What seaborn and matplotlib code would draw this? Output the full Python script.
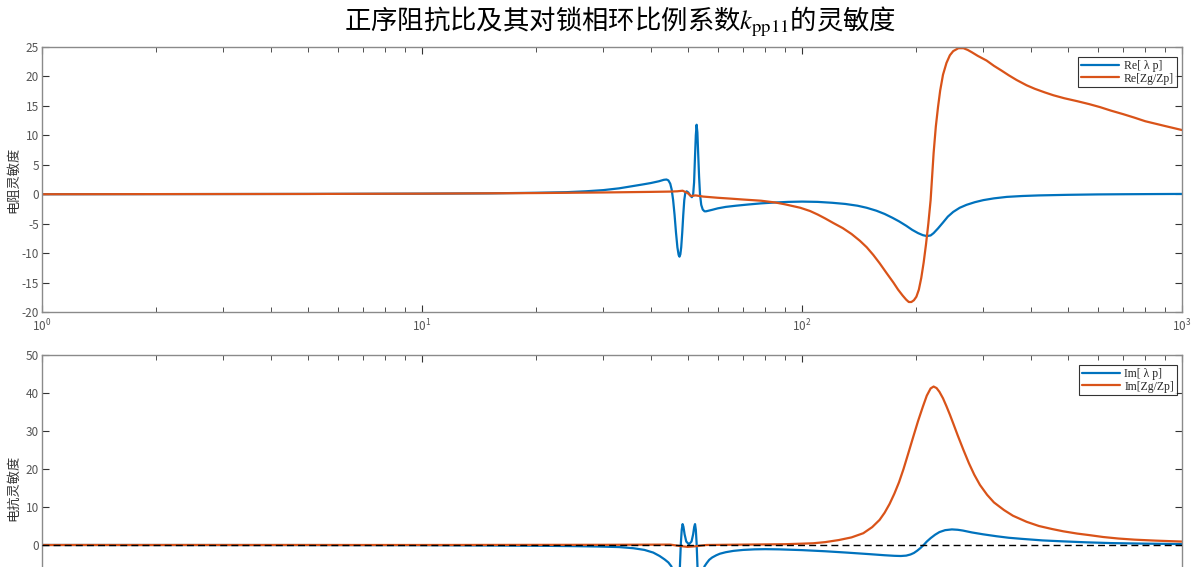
import numpy as np
import pandas as pd
import matplotlib
matplotlib.use("Agg")
import matplotlib.pyplot as plt
import seaborn as sns

# ---------------- data ----------------
# Top panel: Re[λp]
re_lp_f = [1, 2, 5, 10, 15, 20, 24, 27, 30, 33, 36, 38, 40, 42, 43.3, 44.0, 44.5, 45.0,
           45.4, 45.8, 46.2, 46.6, 47.0, 47.35, 47.6, 47.85, 48.1, 48.4, 48.7, 49.0,
           49.3, 49.7, 50.2, 50.8, 51.3, 51.7, 52.0, 52.3, 52.55, 52.8, 53.05, 53.3,
           53.6, 53.9, 54.3, 54.8, 55.4, 55.9, 58, 60, 63, 67, 72, 78, 85, 92, 100,
           110, 120, 130, 140, 148, 157, 165, 173, 180, 188, 195, 202, 208, 213, 218,
           222, 228, 235, 242, 250, 260, 271, 285, 300, 320, 346, 380, 420, 500, 600,
           700, 850, 1000]
re_lp_v = [0.0, 0.02, 0.05, 0.1, 0.15, 0.25, 0.35, 0.5, 0.7, 1.0, 1.4, 1.65, 1.9, 2.2,
           2.45, 2.5, 2.35, 1.8, 0.8, -1.0, -3.5, -6.5, -9.0, -10.3, -10.6, -10.2,
           -9.0, -6.5, -3.5, -1.0, 0.2, 0.5, 0.3, -0.2, -0.5, -0.1, 2.0, 6.5, 10.0,
           11.8, 10.5, 7.0, 3.0, 0.0, -1.8, -2.6, -2.9, -2.9, -2.65, -2.4, -2.15,
           -1.95, -1.75, -1.55, -1.4, -1.3, -1.25, -1.3, -1.45, -1.65, -1.95, -2.3,
           -2.8, -3.35, -4.0, -4.6, -5.35, -6.05, -6.6, -6.95, -7.1, -7.0, -6.6, -5.8,
           -4.8, -3.8, -3.0, -2.3, -1.8, -1.35, -1.0, -0.7, -0.45, -0.3, -0.2, -0.1,
           -0.03, 0.0, 0.03, 0.05]

# Top panel: Re[Zg/Zp]
re_zg_f = [1, 5, 10, 20, 30, 40, 45, 47, 48.5, 50.0, 51.0, 52.5, 55, 60, 65, 70, 78, 85,
           90, 99, 105, 110, 115, 121, 128, 135, 142, 148, 154, 160, 167, 174, 179, 184,
           188, 191, 194, 197, 200, 203, 206, 209, 212, 215, 218, 220, 222, 225, 228,
           231, 235, 240, 245, 250, 258, 266, 273, 280, 290, 306, 320, 335, 350, 367,
           390, 410, 435, 459, 490, 530, 570, 608, 650, 700, 750, 800, 900, 1000]
re_zg_v = [0.0, 0.05, 0.1, 0.2, 0.3, 0.4, 0.45, 0.5, 0.6, 0.2, -0.3, -0.2, -0.4, -0.6,
           -0.75, -0.9, -1.1, -1.4, -1.7, -2.3, -2.85, -3.45, -4.1, -4.9, -5.75, -6.75,
           -7.9, -9.0, -10.3, -11.7, -13.4, -15.0, -16.2, -17.2, -17.9, -18.3, -18.3,
           -18.0, -17.4, -16.2, -14.2, -11.6, -8.5, -5.0, -1.0, 3.0, 7.0, 11.5, 14.8,
           17.6, 20.3, 22.3, 23.6, 24.3, 24.8, 24.8, 24.5, 24.1, 23.5, 22.7, 21.8,
           21.0, 20.2, 19.4, 18.5, 17.9, 17.3, 16.8, 16.3, 15.8, 15.3, 14.8, 14.2,
           13.6, 13.0, 12.4, 11.6, 10.9]

# Bottom panel: Im[λp]
im_lp_f = [1, 5, 10, 20, 25, 29, 33, 36, 38.5, 40.6, 42.2, 43.5, 44.5, 45.3, 46.0, 46.5,
           46.9, 47.2, 47.5, 47.75, 48.0, 48.25, 48.5, 48.75, 49.1, 49.6, 50.4, 51.2,
           51.7, 52.05, 52.3, 52.55, 52.8, 53.05, 53.3, 53.6, 53.9, 54.3, 54.8, 55.4,
           56.1, 57, 58, 59.5, 60.8, 63, 66, 70, 75, 80, 87, 100, 115, 131, 150, 165,
           175, 182, 188, 193, 197, 201, 205, 209, 213, 218, 224, 230, 238, 248, 257,
           265, 280, 300, 325, 350, 380, 430, 487, 560, 650, 800, 1000]
im_lp_v = [0.0, -0.02, -0.05, -0.2, -0.3, -0.4, -0.55, -0.85, -1.3, -2.0, -2.9, -3.8,
           -4.6, -5.6, -7.3, -9.5, -12.5, -13.5, -11.0, -5.0, 0.5, 4.0, 5.5, 4.8, 2.8,
           0.9, 0.2, 0.9, 2.8, 4.8, 5.5, 4.0, 0.5, -5.0, -11.0, -13.5, -12.5, -9.5,
           -7.0, -5.6, -4.8, -3.9, -3.3, -2.7, -2.3, -1.9, -1.55, -1.3, -1.15, -1.1,
           -1.15, -1.35, -1.65, -2.0, -2.4, -2.7, -2.85, -2.9, -2.8, -2.5, -2.1, -1.5,
           -0.8, 0.0, 0.9, 1.8, 2.7, 3.4, 3.9, 4.1, 4.0, 3.8, 3.3, 2.8, 2.3, 1.9, 1.6,
           1.2, 0.95, 0.7, 0.5, 0.35, 0.25]

# Bottom panel: Im[Zg/Zp]
im_zg_f = [1, 10, 30, 45, 48, 50, 53, 56, 70, 90, 100, 107, 115, 125, 135, 145, 153, 160,
           165, 170, 175, 180, 185, 190, 196, 202, 208, 213, 218, 222, 226, 230, 235,
           240, 245, 250, 257, 266, 275, 284, 294, 307, 320, 340, 359, 390, 420, 455,
           487, 530, 570, 620, 680, 750, 850, 1000]
im_zg_v = [0.0, 0.0, 0.05, 0.1, -0.3, -0.5, -0.3, 0.0, 0.1, 0.2, 0.35, 0.45, 0.75, 1.3,
           2.0, 3.1, 4.7, 6.6, 8.5, 10.8, 13.5, 16.5, 20.0, 23.8, 28.3, 32.6, 36.4,
           39.3, 41.2, 41.7, 41.3, 40.3, 38.6, 36.5, 34.3, 32.0, 28.8, 25.0, 21.5,
           18.5, 15.8, 13.2, 11.2, 9.2, 7.7, 6.1, 5.0, 4.2, 3.6, 3.0, 2.6, 2.1, 1.7,
           1.4, 1.15, 0.9]

top_labels = ["Re[ λ p]", "Re[Zg/Zp]"]
bot_labels = ["Im[ λ p]", "Im[Zg/Zp]"]
title_text = r"正序阻抗比及其对锁相环比例系数$k_{\mathrm{pp11}}$的灵敏度"
ylabel_top = "电阻灵敏度"
ylabel_bot = "电抗灵敏度"
yticks_top = list(range(-20, 26, 5))
yticks_bot = list(range(0, 51, 10))

# ---------------- style ----------------
sns.set_theme(style="white")
plt.rcParams["font.family"] = ["Noto Sans CJK SC", "DejaVu Sans"]
plt.rcParams["mathtext.fontset"] = "stix"
plt.rcParams["axes.unicode_minus"] = False

blue = "#0072BD"
orange = "#D95319"
spine_c = "#8a8a8a"
text_c = "#555555"

fig = plt.figure(figsize=(12, 5.67), dpi=100)
ax1 = fig.add_axes([0.035, 0.4497, 0.95, 0.4674])
ax2 = fig.add_axes([0.035, -0.0952, 0.95, 0.4691])

df_top = pd.concat([
    pd.DataFrame({"f": re_lp_f, "v": re_lp_v, "s": top_labels[0]}),
    pd.DataFrame({"f": re_zg_f, "v": re_zg_v, "s": top_labels[1]}),
])
df_bot = pd.concat([
    pd.DataFrame({"f": im_lp_f, "v": im_lp_v, "s": bot_labels[0]}),
    pd.DataFrame({"f": im_zg_f, "v": im_zg_v, "s": bot_labels[1]}),
])

sns.lineplot(data=df_top, x="f", y="v", hue="s", palette=[blue, orange],
             estimator=None, linewidth=1.6, ax=ax1)
sns.lineplot(data=df_bot, x="f", y="v", hue="s", palette=[blue, orange],
             estimator=None, linewidth=1.6, ax=ax2)
ax2.axhline(0, color="black", linestyle="--", linewidth=1.0, dashes=(5, 3), zorder=3)

for ax, ylim, yt, yl in [(ax1, (-20, 25), yticks_top, ylabel_top),
                         (ax2, (-20, 50), yticks_bot, ylabel_bot)]:
    ax.set_xscale("log")
    ax.set_xlim(1, 1000)
    ax.set_ylim(*ylim)
    ax.set_yticks(yt)
    ax.set_xlabel("")
    ax.set_ylabel(yl, fontsize=9.5, color="#333333")
    ax.yaxis.set_label_coords(-0.019, 0.5)
    for sp in ax.spines.values():
        sp.set_color(spine_c)
        sp.set_linewidth(1.0)
    ax.tick_params(which="both", direction="in", top=True, right=True,
                   bottom=True, left=True, colors="#333333",
                   labelcolor=text_c, labelsize=8.5)
    ax.tick_params(which="major", length=5, width=0.8)
    ax.tick_params(which="minor", length=3.5, width=0.6)
    ax.tick_params(axis="x", pad=4)
    ax.tick_params(axis="y", pad=2)
    ax_h = ax.get_position().height * 567
    leg = ax.legend(loc="upper right", bbox_to_anchor=(1 - 5 / 1140, 1 - 10 / ax_h),
                    frameon=True, fancybox=False, edgecolor="black",
                    prop={"family": "Liberation Serif", "size": 8.5},
                    handlelength=3.2, borderpad=0.25, labelspacing=0.05,
                    borderaxespad=0.0, handletextpad=0.4)
    leg.get_frame().set_linewidth(0.8)

ax2.tick_params(labelbottom=False)

fig.text(0.517, 0.962, title_text, ha="center", va="center", fontsize=19,
         color="black")

fig.savefig("out.png", dpi=100)
